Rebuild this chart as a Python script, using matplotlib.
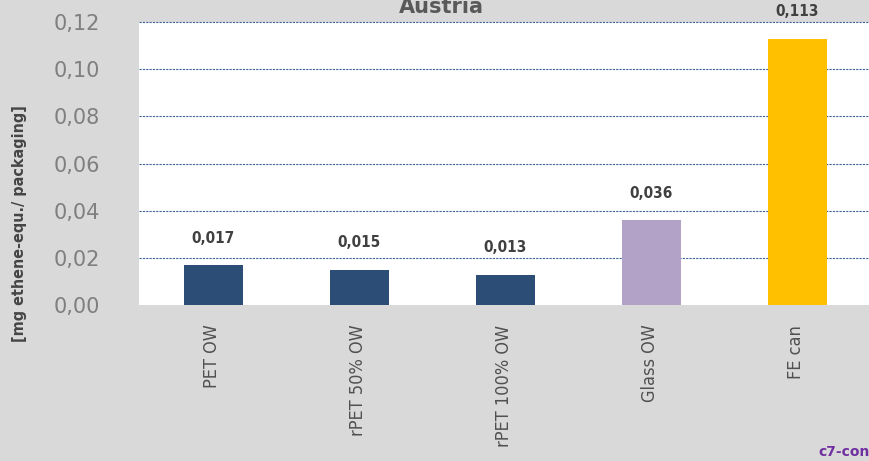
import matplotlib.pyplot as plt

categories = ['PET OW', 'rPET 50% OW', 'rPET 100% OW', 'Glass OW', 'FE can']
values = [0.017, 0.015, 0.013, 0.036, 0.113]
value_labels = ['0,017', '0,015', '0,013', '0,036', '0,113']
bar_colors = ['#2c4d75', '#2c4d75', '#2c4d75', '#b3a2c7', '#ffc000']
yticks = [0.0, 0.02, 0.04, 0.06, 0.08, 0.10, 0.12]
ytick_labels = ['0,00', '0,02', '0,04', '0,06', '0,08', '0,10', '0,12']

bg = '#d9d9d9'
fig = plt.figure(figsize=(8.69, 4.61), dpi=100, facecolor=bg)
ax = fig.add_axes([0.16, 0.338, 0.84, 0.614])
ax.set_facecolor('white')

x = range(len(categories))
ax.bar([i + 0.01 for i in x], values, width=0.4, color=bar_colors, zorder=3)

for i, v in enumerate(values):
    ax.annotate(value_labels[i], (i + 0.01, v), xytext=(0, 14), textcoords='offset points',
                ha='center', va='bottom', fontsize=11, fontweight='bold',
                color='#404040', fontstretch='condensed', annotation_clip=False)

ax.set_xlim(-0.5, 4.5)
ax.set_ylim(0, 0.12)
ax.set_yticks(yticks)
ax.set_yticklabels(ytick_labels, fontsize=15, color='#7f7f7f')
ax.set_xticks(list(x))
ax.set_xticklabels(categories, rotation=90, fontsize=13, color='#505050',
                   fontstretch='condensed')
ax.tick_params(axis='both', length=0)
ax.tick_params(axis='y', pad=28)
ax.tick_params(axis='x', pad=14)

for yv in yticks[1:]:
    ax.axhline(yv, color='#41649a', linestyle=(0, (2, 1)), linewidth=0.8,
               zorder=2, clip_on=False)

for s in ax.spines.values():
    s.set_visible(False)

fig.text(0.023, 0.514, '[mg ethene-equ./ packaging]', rotation=90, ha='center',
         va='center', fontsize=11.5, fontweight='bold', color='#454545',
         fontstretch='condensed')
fig.text(0.508, 0.963, 'Austria', ha='center', va='bottom', fontsize=15,
         fontweight='bold', color='#595959')
fig.text(0.942, 0.005, 'c7-consult', ha='left', va='bottom', fontsize=10,
         fontweight='bold', color='#7030a0')

fig.savefig('out.png', dpi=100, facecolor=bg)
